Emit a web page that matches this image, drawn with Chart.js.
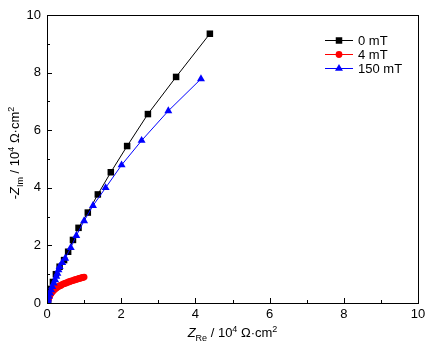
<!DOCTYPE html>
<html>
<head>
<meta charset="utf-8">
<script src="https://cdn.jsdelivr.net/npm/chart.js@4"></script>
<style>
  html, body { margin: 0; padding: 0; background: #fff; }
  #wrap { width: 435px; height: 352px; }
</style>
</head>
<body>
<div id="wrap"><canvas id="nyquist" width="435" height="352"></canvas></div>
<script>
// Nyquist data, units of 10^4 ohm.cm2
const seriesNames = ['0 mT', '4 mT', '150 mT'];
const seriesColors = ['#000000', '#ff0000', '#0000ff'];
const seriesMarkers = ['rect', 'circle', 'triangle'];

const zre0 = [0.03, 0.05, 0.11, 0.16, 0.24, 0.34, 0.46, 0.57, 0.70, 0.85, 1.10, 1.37, 1.72, 2.16, 2.72, 3.48, 4.39];
const zim0 = [0.10, 0.28, 0.49, 0.73, 1.00, 1.26, 1.49, 1.78, 2.19, 2.61, 3.14, 3.77, 4.54, 5.45, 6.56, 7.85, 9.35];

const zre4 = [0.01, 0.02, 0.03, 0.04, 0.05, 0.06, 0.07, 0.08, 0.10, 0.12, 0.14, 0.16, 0.18, 0.20, 0.23, 0.26, 0.29, 0.32, 0.35, 0.38, 0.42, 0.46, 0.50, 0.54, 0.58, 0.62, 0.66, 0.70, 0.74, 0.78, 0.82, 0.86, 0.90, 0.94, 0.97, 1.00];
const zim4 = [0.04, 0.08, 0.12, 0.16, 0.19, 0.22, 0.25, 0.28, 0.32, 0.36, 0.39, 0.42, 0.45, 0.47, 0.50, 0.53, 0.56, 0.58, 0.60, 0.62, 0.65, 0.67, 0.69, 0.71, 0.73, 0.75, 0.77, 0.78, 0.80, 0.82, 0.83, 0.85, 0.86, 0.88, 0.89, 0.90];

const zre150 = [0.01, 0.02, 0.03, 0.05, 0.08, 0.11, 0.14, 0.18, 0.22, 0.25, 0.28, 0.31, 0.34, 0.41, 0.49, 0.64, 0.79, 1.00, 1.24, 1.58, 2.01, 2.55, 3.27, 4.15];
const zim150 = [0.03, 0.07, 0.13, 0.23, 0.34, 0.45, 0.57, 0.69, 0.80, 0.92, 1.03, 1.15, 1.26, 1.40, 1.55, 1.92, 2.34, 2.85, 3.38, 4.00, 4.79, 5.64, 6.67, 7.78];

const xTicks = [0, 2, 4, 6, 8, 10];
const yTicks = [0, 2, 4, 6, 8, 10];

const FONT = 'Arial, "Liberation Sans", sans-serif';

function toPoints(xs, ys) {
  return xs.map((x, i) => ({ x: x, y: ys[i] }));
}

const allX = [zre0, zre4, zre150];
const allY = [zim0, zim4, zim150];
const markerSize = [4.6, 3.4, 4.6];

const datasets = seriesNames.map((name, i) => ({
  label: name,
  data: toPoints(allX[i], allY[i]),
  showLine: true,
  borderColor: seriesColors[i],
  backgroundColor: seriesColors[i],
  borderWidth: 1,
  pointStyle: seriesMarkers[i],
  pointRadius: markerSize[i],
  pointBorderWidth: 0,
  order: 2 - i
}));

// draw the segments of a label with sub/superscripts, left to right
function drawRich(ctx, parts, x, y) {
  let cx = x;
  parts.forEach(p => {
    ctx.font = (p.italic ? 'italic ' : '') + p.size + 'px ' + FONT;
    ctx.fillText(p.t, cx, y + (p.dy || 0));
    cx += ctx.measureText(p.t).width;
  });
  return cx - x;
}

function richWidth(ctx, parts) {
  let w = 0;
  parts.forEach(p => {
    ctx.font = (p.italic ? 'italic ' : '') + p.size + 'px ' + FONT;
    w += ctx.measureText(p.t).width;
  });
  return w;
}

const xTitle = [
  { t: 'Z', size: 13, italic: true },
  { t: 'Re', size: 9, dy: 4 },
  { t: ' / 10', size: 13 },
  { t: '4', size: 9, dy: -5 },
  { t: ' \u03A9\u00B7cm', size: 13 },
  { t: '2', size: 9, dy: -5 }
];
const yTitle = [
  { t: '-', size: 13 },
  { t: 'Z', size: 13, italic: true },
  { t: 'Im', size: 9, dy: 4 },
  { t: ' / 10', size: 13 },
  { t: '4', size: 9, dy: -5 },
  { t: ' \u03A9\u00B7cm', size: 13 },
  { t: '2', size: 9, dy: -5 }
];

const framePlugin = {
  id: 'frame',
  afterDraw(chart) {
    const ctx = chart.ctx;
    const a = chart.chartArea;
    const xs = chart.scales.x;
    const ys = chart.scales.y;
    ctx.save();
    ctx.strokeStyle = '#000';
    ctx.lineWidth = 1;
    ctx.strokeRect(Math.round(a.left) + 0.5, Math.round(a.top) + 0.5,
      Math.round(a.right - a.left), Math.round(a.bottom - a.top));

    // inward ticks, major every 2, minor every 1
    ctx.beginPath();
    for (let v = 0; v <= 10; v++) {
      const len = v % 2 === 0 ? 5 : 3;
      const px = Math.round(xs.getPixelForValue(v)) + 0.5;
      ctx.moveTo(px, a.bottom);
      ctx.lineTo(px, a.bottom - len);
      const py = Math.round(ys.getPixelForValue(v)) + 0.5;
      ctx.moveTo(a.left, py);
      ctx.lineTo(a.left + len, py);
    }
    ctx.stroke();

    // axis titles
    ctx.fillStyle = '#000';
    ctx.textBaseline = 'alphabetic';
    ctx.textAlign = 'left';
    const xw = richWidth(ctx, xTitle);
    drawRich(ctx, xTitle, (a.left + a.right) / 2 - xw / 2, 337);

    const yw = richWidth(ctx, yTitle);
    ctx.translate(19, (a.top + a.bottom) / 2 - 6);
    ctx.rotate(-Math.PI / 2);
    drawRich(ctx, yTitle, -yw / 2, 0);
    ctx.restore();

    // legend
    ctx.save();
    const lx = 325, lw = 28, tx = 358;
    const rows = [40, 54, 68];
    chart.data.datasets.forEach((ds, i) => {
      const y = rows[i];
      ctx.strokeStyle = ds.borderColor;
      ctx.fillStyle = ds.backgroundColor;
      ctx.lineWidth = 1;
      ctx.beginPath();
      ctx.moveTo(lx, y + 0.5);
      ctx.lineTo(lx + lw, y + 0.5);
      ctx.stroke();
      Chart.helpers.drawPoint(ctx, {
        pointStyle: ds.pointStyle,
        radius: ds.pointRadius,
        borderWidth: 0
      }, lx + lw / 2, y + 0.5);
      ctx.fillStyle = '#000';
      ctx.font = '13px ' + FONT;
      ctx.textBaseline = 'middle';
      ctx.fillText(ds.label, tx, y + 1);
    });
    ctx.restore();
  }
};

const chart = new Chart(document.getElementById('nyquist'), {
  type: 'scatter',
  data: { datasets: datasets },
  options: {
    responsive: false,
    animation: false,
    layout: { padding: { left: 0, top: 15, right: 17, bottom: 0 } },
    plugins: {
      legend: { display: false },
      tooltip: { enabled: false }
    },
    scales: {
      x: {
        type: 'linear',
        min: 0,
        max: 10,
        afterFit: s => { s.height = 49; },
        afterBuildTicks: s => { s.ticks = xTicks.map(v => ({ value: v })); },
        grid: { display: false, drawTicks: false },
        border: { display: false },
        ticks: { color: '#000', padding: 4, font: { family: FONT, size: 13 }, maxRotation: 0 }
      },
      y: {
        type: 'linear',
        min: 0,
        max: 10,
        afterFit: s => { s.width = 47; },
        afterBuildTicks: s => { s.ticks = yTicks.map(v => ({ value: v })); },
        grid: { display: false, drawTicks: false },
        border: { display: false },
        ticks: { color: '#000', padding: 6, font: { family: FONT, size: 13 } }
      }
    }
  },
  plugins: [framePlugin]
});
</script>
</body>
</html>
